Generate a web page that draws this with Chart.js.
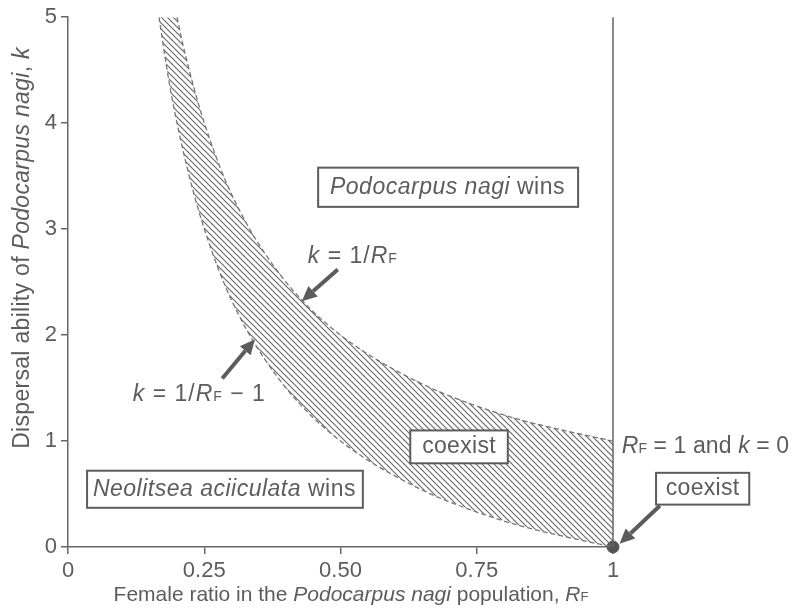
<!DOCTYPE html>
<html>
<head>
<meta charset="utf-8">
<script src="https://cdn.jsdelivr.net/npm/chart.js@4/dist/chart.umd.min.js"></script>
<style>
  html, body { margin: 0; padding: 0; background: #fff; }
  #wrap { width: 796px; height: 615px; position: relative; }
</style>
</head>
<body>
<div id="wrap"><canvas id="c"></canvas></div>
<script>
// values
const upperR = [0.20, 0.21, 0.22, 0.24, 0.26, 0.28, 0.30, 0.33, 0.36, 0.40, 0.45, 0.50, 0.55, 0.60, 0.67, 0.75, 0.83, 0.91, 1.00];
const upperK = [5.00, 4.76, 4.55, 4.17, 3.85, 3.57, 3.33, 3.03, 2.78, 2.50, 2.22, 2.00, 1.82, 1.67, 1.49, 1.33, 1.20, 1.10, 1.00];
const lowerR = [0.167, 0.18, 0.19, 0.20, 0.22, 0.24, 0.26, 0.28, 0.30, 0.33, 0.36, 0.40, 0.45, 0.50, 0.55, 0.60, 0.67, 0.75, 0.83, 0.91, 1.00];
const lowerK = [5.00, 4.56, 4.26, 4.00, 3.55, 3.17, 2.85, 2.57, 2.33, 2.03, 1.78, 1.50, 1.22, 1.00, 0.82, 0.67, 0.49, 0.33, 0.20, 0.10, 0.00];
const edgeR = [1, 1];
const edgeK = [0, 5];
const pointR = [1];
const pointK = [0];
const xTicks = [0, 0.25, 0.5, 0.75, 1];
const xTickLabels = ['0', '0.25', '0.50', '0.75', '1'];

const GREY = '#5c5c5c';
const FONT = '"Liberation Sans", Arial, sans-serif';

const pts = (xs, ys) => xs.map((x, i) => ({ x: x, y: ys[i] }));
const upper = pts(upperR, upperK);
const lower = pts(lowerR, lowerK);
// closed outline of the coexistence band
const band = upper.concat(lower.slice().reverse());

// diagonal hatching
function makeHatch() {
  const c = document.createElement('canvas');
  c.width = 6; c.height = 6;
  const g = c.getContext('2d');
  g.strokeStyle = '#666';
  g.lineWidth = 1.1;
  g.beginPath();
  g.moveTo(-1, -1); g.lineTo(7, 7);
  g.moveTo(-1, 5); g.lineTo(1, 7);
  g.moveTo(5, -1); g.lineTo(7, 1);
  g.stroke();
  return g.createPattern(c, 'repeat');
}

// text with mixed styles: runs of [text, italic, scale]
function setFont(ctx, r, size) {
  ctx.font = (r[1] ? 'italic ' : '') + Math.round(size * (r[2] || 1)) + 'px ' + FONT;
}
function drawRuns(ctx, runs, x, y, size, align, spacing) {
  ctx.letterSpacing = (spacing || 0) + 'px';
  let w = 0;
  runs.forEach(r => { setFont(ctx, r, size); w += ctx.measureText(r[0]).width; });
  let cx = align === 'center' ? x - w / 2 : x;
  ctx.textBaseline = 'middle';
  ctx.textAlign = 'left';
  ctx.fillStyle = GREY;
  runs.forEach(r => {
    setFont(ctx, r, size);
    ctx.fillText(r[0], cx, y + (r[2] && r[2] < 1 ? size * 0.12 : 0));
    cx += ctx.measureText(r[0]).width;
  });
  ctx.letterSpacing = '0px';
}

function arrow(ctx, x1, y1, x2, y2) {
  const a = Math.atan2(y2 - y1, x2 - x1);
  const head = 15, hw = 7;
  const bx = x2 - head * Math.cos(a), by = y2 - head * Math.sin(a);
  ctx.strokeStyle = GREY;
  ctx.fillStyle = GREY;
  ctx.lineWidth = 4;
  ctx.beginPath();
  ctx.moveTo(x1, y1); ctx.lineTo(bx, by);
  ctx.stroke();
  ctx.beginPath();
  ctx.moveTo(x2, y2);
  ctx.lineTo(bx + hw * Math.sin(a), by - hw * Math.cos(a));
  ctx.lineTo(bx - hw * Math.sin(a), by + hw * Math.cos(a));
  ctx.closePath();
  ctx.fill();
}

const annotations = {
  id: 'annotations',
  afterDraw(chart) {
    const ctx = chart.ctx;
    const xs = chart.scales.x, ys = chart.scales.y;
    const X = v => xs.getPixelForValue(v);
    const Y = v => ys.getPixelForValue(v);
    ctx.save();

    // boxes: [left, top, right, bottom] in data units
    const boxes = [
      [0.459, 3.58, 0.936, 3.21],
      [0.035, 0.72, 0.541, 0.37],
      [0.628, 1.10, 0.807, 0.79],
      [1.079, 0.70, 1.250, 0.40]
    ];
    ctx.strokeStyle = GREY;
    ctx.lineWidth = 2;
    boxes.forEach(b => {
      ctx.fillStyle = '#fff';
      ctx.fillRect(X(b[0]), Y(b[1]), X(b[2]) - X(b[0]), Y(b[3]) - Y(b[1]));
      ctx.strokeRect(X(b[0]), Y(b[1]), X(b[2]) - X(b[0]), Y(b[3]) - Y(b[1]));
    });

    drawRuns(ctx, [['Podocarpus nagi', true], [' wins', false]], X(0.6963), Y(3.395), 23, 'center', 0.5);
    drawRuns(ctx, [['Neolitsea aciiculata', true], [' wins', false]], X(0.287), Y(0.545), 23, 'center', 0.5);
    drawRuns(ctx, [['coexist', false]], X(0.7175), Y(0.945), 23, 'center', 0.3);
    drawRuns(ctx, [['coexist', false]], X(1.1645), Y(0.55), 23, 'center', 0.3);

    drawRuns(ctx, [['k', true], [' = 1/', false], ['R', true], ['F', false, 0.6]], X(0.44), Y(2.74), 23, 'left', 1);
    drawRuns(ctx, [['k', true], [' = 1/', false], ['R', true], ['F', false, 0.6], [' \u2212 1', false]], X(0.119), Y(1.44), 23, 'left', 1);
    drawRuns(ctx, [['R', true], ['F', false, 0.6], [' = 1 and ', false], ['k', true], [' = 0', false]], X(1.016), Y(0.95), 23, 'left', 0.1);

    arrow(ctx, X(0.495), Y(2.62), X(0.429), Y(2.32));
    arrow(ctx, X(0.283), Y(1.59), X(0.343), Y(1.96));
    arrow(ctx, X(1.086), Y(0.39), X(1.012), Y(0.03));

    // axis titles
    drawRuns(ctx, [['Female ratio in the ', false], ['Podocarpus nagi', true], [' population, ', false], ['R', true], ['F', false, 0.6]], 351, 595, 21, 'center', 0);
    ctx.translate(23, 248);
    ctx.rotate(-Math.PI / 2);
    drawRuns(ctx, [['Dispersal ability of ', false], ['Podocarpus nagi', true], [', ', false], ['k', true]], 0, 0, 23, 'center', 0.3);
    ctx.restore();
  }
};

const axisStyle = {
  grid: { display: true, drawOnChartArea: false, drawTicks: true, tickLength: 7, color: '#666', lineWidth: 1.5 },
  border: { display: true, color: '#666', width: 1.5 }
};

new Chart(document.getElementById('c'), {
  type: 'scatter',
  data: {
    datasets: [
      { data: band, showLine: true, fill: 'shape', backgroundColor: makeHatch(), borderWidth: 0, pointRadius: 0 },
      { data: upper, showLine: true, borderColor: '#777', borderWidth: 1.3, borderDash: [5, 3], pointRadius: 0, cubicInterpolationMode: 'monotone' },
      { data: lower, showLine: true, borderColor: '#777', borderWidth: 1.3, borderDash: [5, 3], pointRadius: 0, cubicInterpolationMode: 'monotone' },
      { data: pts(edgeR, edgeK), showLine: true, borderColor: '#666', borderWidth: 1.5, pointRadius: 0, clip: false },
      { data: pts(pointR, pointK), pointRadius: 6, backgroundColor: '#555', borderColor: '#555', clip: false }
    ]
  },
  options: {
    responsive: true,
    maintainAspectRatio: false,
    animation: false,
    layout: { padding: { top: 14, right: 183, left: 0, bottom: 0 } },
    plugins: { legend: { display: false }, tooltip: { enabled: false } },
    scales: {
      x: {
        type: 'linear', min: 0, max: 1,
        afterBuildTicks: s => { s.ticks = xTicks.map(v => ({ value: v })); },
        afterFit: s => { s.height = 68; },
        ticks: { callback: (v, i) => xTickLabels[i], color: GREY, font: { size: 22, family: FONT }, padding: 4, maxRotation: 0 },
        ...axisStyle
      },
      y: {
        type: 'linear', min: 0, max: 5,
        afterFit: s => { s.width = 68; },
        ticks: { stepSize: 1, color: GREY, font: { size: 22, family: FONT }, padding: 4 },
        ...axisStyle
      }
    }
  },
  plugins: [annotations]
});
</script>
</body>
</html>
